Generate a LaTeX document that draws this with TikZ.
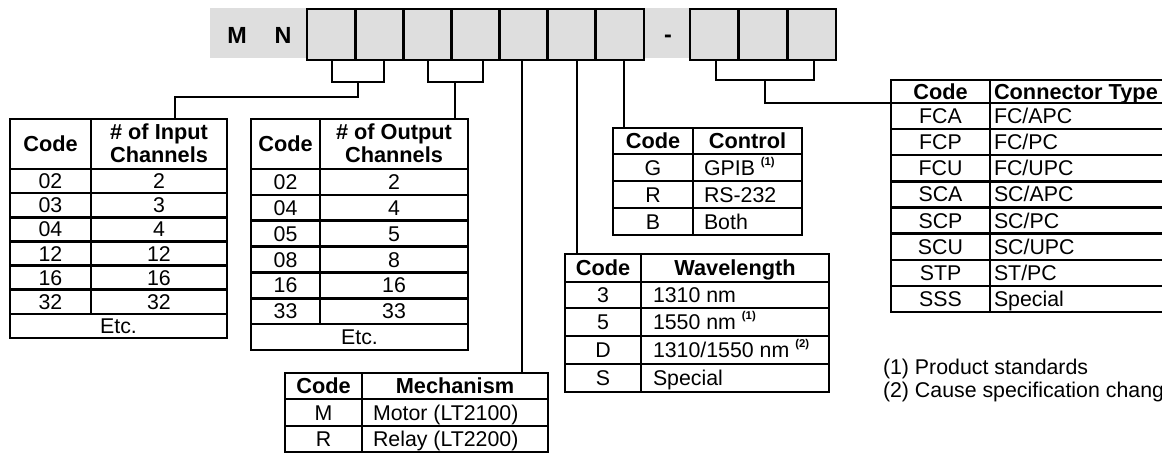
\documentclass[tikz,border=0pt]{standalone}
\usepackage{fontspec}
\setmainfont{Liberation Sans}
\usetikzlibrary{fit}
\definecolor{barfill}{RGB}{222,222,222}
\newcommand{\fnm}[1]{\raisebox{7.5pt}{\fontsize{8.5}{9}\selectfont\bfseries(#1)}}
\begin{document}
\begin{tikzpicture}[x=0.75pt,y=-0.75pt,
  every node/.style={inner sep=0pt, outer sep=0pt},
  tx/.style={font=\fontsize{16}{19}\selectfont, anchor=base},
  txl/.style={font=\fontsize{16}{19}\selectfont, anchor=base west},
  hd/.style={font=\fontsize{16.3}{19}\selectfont\bfseries, anchor=base},
  hdl/.style={font=\fontsize{16.3}{19}\selectfont\bfseries, anchor=base west},
  tbl/.style={draw, line width=1.9pt},
  tl/.style={line width=1.9pt},
  cl/.style={line width=0.9pt},
  box/.style={draw, line width=2.2pt, fill=barfill, minimum height=38.25pt, anchor=north west},
  big/.style={font=\fontsize{17.5}{20}\selectfont\bfseries, anchor=base}
]
\useasboundingbox (0,0) rectangle (1162,453);
\clip (0,0) rectangle (1162,453);

% ---------- top code bar ----------
\fill[barfill] (210,8) rectangle (836,58);
\node[big] (lm) at (237,43.3) {M};
\node[big] (ln) at (283,43.3) {N};
\node[big] (ldash) at (668,43) {-};
\foreach \i in {1,...,7}{
  \pgfmathsetmacro\xx{307+48.14*(\i-1)}
  \node[box, minimum width=36.1pt] (b\i) at (\xx,9) {};
}
\foreach \i in {8,9,10}{
  \pgfmathsetmacro\xx{690+48.67*(\i-8)}
  \node[box, minimum width=36.5pt] (b\i) at (\xx,9) {};
}

% ---------- tables ----------
% Input channels
\node[tbl, fit={(10,119) (227,338)}] (tin) {};
\draw[tl] (91,119) -- (91,313.9);
\foreach \y in {169,193.1,217.3,241.4,265.6,289.7,313.9} \draw[tl] (10,\y) -- (227,\y);
\node[hd] (tinh1) at (50.5,151.6) {Code};
\node[hd] (tinh2) at (159,139.6) {\# of Input};
\node[hd] (tinh3) at (159,162.6) {Channels};
\foreach \c/\v [count=\i] in {02/2,03/3,04/4,12/12,16/16,32/32}{
  \pgfmathsetmacro\yy{169+24.13*\i-12.07+7.6}
  \node[tx] (tinc\i) at (50.5,\yy) {\c};
  \node[tx] (tinv\i) at (159,\yy) {\v};
}
\node[tx] (tine) at (118.5,333.6) {Etc.};

% Output channels
\node[tbl, fit={(251,119) (468,350)}] (tout) {};
\draw[tl] (320,119) -- (320,324.1);
\foreach \y in {169,194.86,220.71,246.57,272.43,298.29,324.14} \draw[tl] (251,\y) -- (468,\y);
\node[hd] (touth1) at (285.5,151.6) {Code};
\node[hd] (touth2) at (394,139.6) {\# of Output};
\node[hd] (touth3) at (394,162.6) {Channels};
\foreach \c/\v [count=\i] in {02/2,04/4,05/5,08/8,16/16,33/33}{
  \pgfmathsetmacro\yy{169+25.86*\i-12.93+7.6}
  \node[tx] (toutc\i) at (285.5,\yy) {\c};
  \node[tx] (toutv\i) at (394,\yy) {\v};
}
\node[tx] (toute) at (359.5,344.7) {Etc.};

% Mechanism
\node[tbl, fit={(285,373) (548,452)}] (tmech) {};
\draw[tl] (362,373) -- (362,452);
\draw[tl] (285,399) -- (548,399);
\draw[tl] (285,426) -- (548,426);
\node[hd] (tmechh1) at (323.5,393.6) {Code};
\node[hd] (tmechh2) at (455,393.6) {Mechanism};
\node[tx] (tmechc1) at (323.5,420.1) {M};
\node[txl] (tmechv1) at (373,420.1) {Motor (LT2100)};
\node[tx] (tmechc2) at (323.5,446.6) {R};
\node[txl] (tmechv2) at (373,446.6) {Relay (LT2200)};

% Control
\node[tbl, fit={(613,128) (802,235)}] (tctrl) {};
\draw[tl] (693,128) -- (693,235);
\foreach \y in {154,181,208} \draw[tl] (613,\y) -- (802,\y);
\node[hd] (tctrlh1) at (653,148.6) {Code};
\node[hd] (tctrlh2) at (747.5,148.6) {Control};
\node[tx] (tctrlc1) at (653,175.1) {G};
\node[txl] (tctrlv1) at (704,175.1) {GPIB \fnm{1}};
\node[tx] (tctrlc2) at (653,202.1) {R};
\node[txl] (tctrlv2) at (704,202.1) {RS-232};
\node[tx] (tctrlc3) at (653,229.1) {B};
\node[txl] (tctrlv3) at (704,229.1) {Both};

% Wavelength
\node[tbl, fit={(565,254) (829,392)}] (twave) {};
\draw[tl] (641,254) -- (641,392);
\foreach \y in {282,308,336,364} \draw[tl] (565,\y) -- (829,\y);
\node[hd] (twaveh1) at (603,275.6) {Code};
\node[hd] (twaveh2) at (735,275.6) {Wavelength};
\node[tx] (twavec1) at (603,302.6) {3};
\node[txl] (twavev1) at (653,302.6) {1310 nm};
\node[tx] (twavec2) at (603,329.6) {5};
\node[txl] (twavev2) at (653,329.6) {1550 nm \fnm{1}};
\node[tx] (twavec3) at (603,357.6) {D};
\node[txl] (twavev3) at (653,357.6) {1310/1550 nm \fnm{2}};
\node[tx] (twavec4) at (603,385.6) {S};
\node[txl] (twavev4) at (653,385.6) {Special};

% Connector type
\node[tbl, fit={(891,80) (1180,312)}] (tconn) {};
\draw[tl] (990,80) -- (990,312);
\foreach \y in {103,129.1,155.2,181.4,207.5,233.6,259.8,285.9} \draw[tl] (891,\y) -- (1180,\y);
\node[hd] (tconnh1) at (940.5,99.1) {Code};
\node[hdl] (tconnh2) at (994,99.1) {Connector Type};
\foreach \c/\v [count=\i] in {FCA/FC\slash APC,FCP/FC\slash PC,FCU/FC\slash UPC,SCA/SC\slash APC,SCP/SC\slash PC,SCU/SC\slash UPC,STP/ST\slash PC,SSS/Special}{
  \pgfmathsetmacro\yy{103+26.11*\i-13.05+7.6}
  \node[tx] (tconnc\i) at (940.5,\yy) {\c};
  \node[txl] (tconnv\i) at (994,\yy) {\v};
}

% Footnotes
\node[txl] (fn1) at (883,374) {(1) Product standards};
\node[txl] (fn2) at (883,397.5) {(2) Cause specification change};

% ---------- connectors ----------
\coordinate (a1) at (332,60);
\coordinate (a2) at (384,60);
\coordinate (s1) at (358,82);
\coordinate (q1) at (175,97);
\draw[cl] (a1) |- (s1) -| (a2);
\draw[cl] (s1) |- (q1) -- (q1 |- tin.north);

\coordinate (a3) at (428,60);
\coordinate (a4) at (483,60);
\coordinate (s2) at (455,82);
\draw[cl] (a3) |- (s2) -| (a4);
\draw[cl] (s2) -- (s2 |- tout.north);

\coordinate (a5) at (522,60);
\draw[cl] (a5) -- (a5 |- tmech.north);
\coordinate (a6) at (577,60);
\draw[cl] (a6) -- (a6 |- twave.north);
\coordinate (a7) at (624,60);
\draw[cl] (a7) -- (a7 |- tctrl.north);

\coordinate (a8) at (716,60);
\coordinate (a9) at (814,60);
\coordinate (s3) at (765,80);
\coordinate (q3) at (765,103);
\draw[cl] (a8) |- (s3) -| (a9);
\draw[cl] (s3) -- (q3) -- (q3 -| tconn.west);
\end{tikzpicture}
\end{document}
